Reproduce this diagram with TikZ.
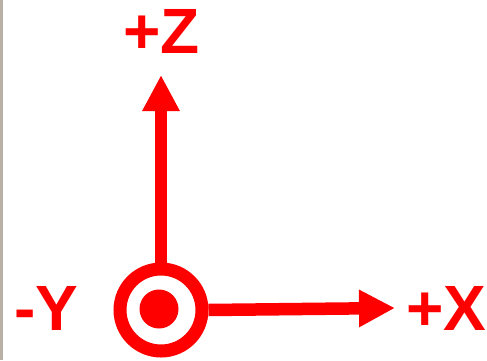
\documentclass[tikz,border=0pt]{standalone}
\usepackage{fontspec}
\setmainfont{Liberation Sans}
\usetikzlibrary{arrows.meta}
\definecolor{axisred}{RGB}{255,0,0}
\definecolor{edgegray}{RGB}{185,176,166}
\begin{document}
\begin{tikzpicture}[x=1pt,y=1pt,
  lbl/.style={text=axisred,font=\fontsize{64}{64}\selectfont\bfseries,inner sep=0pt},
  axis/.style={draw=axisred,line width=12.5pt,-{Triangle[length=36pt,width=35pt]}},
  ring/.style={circle,draw=axisred,line width=13pt,minimum size=82pt,inner sep=0pt},
  dot/.style={circle,fill=axisred,minimum size=39pt,inner sep=0pt}]
\useasboundingbox (0,0) rectangle (487,360);
\fill[white] (0,0) rectangle (487,360);
\fill[edgegray] (0,0) rectangle (3,360);
\node[ring] (c) at (161,50) {};
\node[dot] (d) at (159,51) {};
\coordinate (ztip) at (161,285);
\coordinate (xtip) at (395,52);
\draw[axis] (c.north) -- (ztip);
\draw[axis] (c.east) -- (xtip);
\node[lbl,anchor=base] (zl) at (161.5,307) {+Z};
\node[lbl,anchor=base] (yl) at (46,30) {-Y};
\node[lbl,anchor=base west] (xl) at (406,30) {+X};
\end{tikzpicture}
\end{document}
